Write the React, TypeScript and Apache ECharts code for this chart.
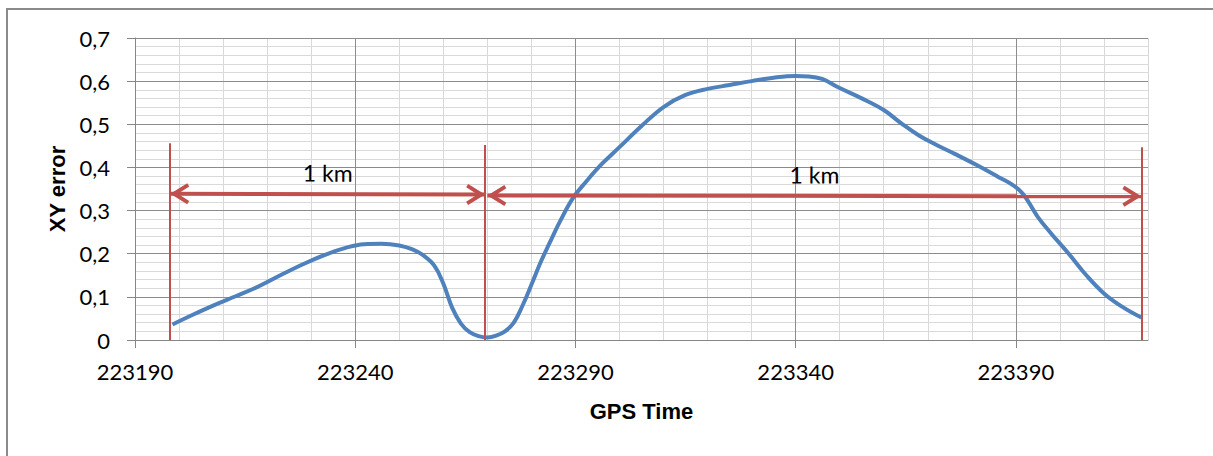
import React, { useEffect, useRef } from "react";
import * as echarts from "echarts";

// ---- data ----
const gpsTime = [
  223198.5, 223203, 223208, 223213, 223218, 223223, 223228, 223233, 223238, 223242,
  223246, 223250, 223253, 223255.5, 223258, 223260, 223262, 223264, 223266, 223268,
  223270, 223272, 223274, 223276, 223278, 223280, 223282, 223284, 223286.5, 223289.5,
  223292.5, 223296, 223300, 223305, 223310, 223315, 223320, 223325, 223330, 223335,
  223340, 223343, 223346, 223350, 223355, 223360, 223364, 223368, 223372, 223376,
  223381, 223386, 223389.5, 223391.5, 223393, 223395, 223398, 223402, 223406, 223410,
  223414, 223418.5,
];
const xyError = [
  0.036, 0.058, 0.081, 0.102, 0.124, 0.15, 0.175, 0.197, 0.214, 0.222,
  0.223, 0.219, 0.21, 0.196, 0.172, 0.131, 0.075, 0.038, 0.018, 0.009,
  0.006, 0.01, 0.02, 0.04, 0.08, 0.128, 0.178, 0.222, 0.275, 0.33,
  0.368, 0.408, 0.447, 0.496, 0.54, 0.568, 0.582, 0.591, 0.6, 0.608,
  0.612, 0.611, 0.605, 0.584, 0.56, 0.533, 0.502, 0.474, 0.452, 0.432,
  0.406, 0.378, 0.358, 0.34, 0.318, 0.285, 0.247, 0.2, 0.15, 0.108,
  0.078, 0.052,
];

const xMin = 223190;
const xMax = 223420;
const xTickLabels = [223190, 223240, 223290, 223340, 223390];
const yTickLabels = [0, 0.1, 0.2, 0.3, 0.4, 0.5, 0.6, 0.7];

// annotation markers (vertical red lines)
const markerTimes = [223198, 223269.5, 223418.5];
const markerTops = [0.456, 0.452, 0.447];
const markerBottom = 0;

// distance arrows
const arrowStarts = [223198, 223270];
const arrowEnds = [223269.5, 223418.5];
const arrowStartY = [0.339, 0.335];
const arrowEndY = [0.337, 0.333];
const arrowLabels = ["1 km", "1 km"];

const RED = "#C0504D";
const BLUE = "#4F81BD";
const chevron =
  "path://M0 -19 L0 -19 Z M0 0 L10.5 17 L7.2 19 L0 7.6 L-7.2 19 L-10.5 17 Z";

export default function App() {
  const ref = useRef<HTMLDivElement>(null);

  useEffect(() => {
    if (!ref.current) return;
    const chart = echarts.init(ref.current, undefined, { renderer: "svg" });

    const curve = gpsTime.map((t, i) => [t, xyError[i]]);

    const verticalLines = markerTimes.map((t, i) => [
      { coord: [t, markerTops[i]] },
      { coord: [t, markerBottom] },
    ]);
    const arrows = arrowStarts.map((s, i) => [
      {
        coord: [s, arrowStartY[i]],
        label: { formatter: arrowLabels[i] },
      },
      { coord: [arrowEnds[i], arrowEndY[i]] },
    ]);

    const tickFont = "Lato";
    const titleFont = "Liberation Sans";

    chart.setOption({
      animation: false,
      backgroundColor: "#ffffff",
      graphic: [
        {
          type: "rect",
          shape: { x: 7, y: 9, width: 1400, height: 700 },
          style: { fill: "none", stroke: "#8a8a8a", lineWidth: 2 },
          silent: true,
          z: -10,
        },
      ],
      grid: { left: 135, right: 65, top: 38, bottom: 116, containLabel: false },
      xAxis: [
        {
          // major axis: labels, ticks, dark grid lines at the labelled values
          type: "value",
          min: xMin,
          max: xMax,
          interval: 10,
          position: "bottom",
          z: 2,
          axisLine: { show: true, lineStyle: { color: "#868686", width: 1 } },
          axisTick: {
            show: true,
            customValues: xTickLabels,
            length: 8,
            lineStyle: { color: "#868686" },
          },
          axisLabel: {
            customValues: xTickLabels,
            formatter: (v: number) => String(v),
            fontFamily: tickFont,
            fontSize: 22,
            color: "#000",
            margin: 20,
          },
          splitLine: { show: true, lineStyle: { color: "#8c8c8c", width: 1 } },
          name: "GPS Time",
          nameLocation: "middle",
          nameGap: 60,
          nameTextStyle: {
            fontFamily: titleFont,
            fontWeight: "bold",
            fontSize: 22,
            color: "#000",
          },
        },
        {
          // minor grid every 10 s
          type: "value",
          min: xMin,
          max: xMax,
          interval: 10,
          position: "top",
          z: 0,
          axisLine: { show: false },
          axisTick: { show: false },
          axisLabel: { show: false },
          splitLine: { show: true, lineStyle: { color: "#d9d9d9", width: 1 } },
        },
      ],
      yAxis: [
        {
          type: "value",
          min: 0,
          max: 0.7,
          interval: 0.02,
          z: 2,
          axisLine: { show: true, lineStyle: { color: "#868686", width: 1 } },
          axisTick: {
            show: true,
            customValues: yTickLabels,
            length: 8,
            lineStyle: { color: "#868686" },
          },
          axisLabel: {
            customValues: yTickLabels,
            formatter: (v: number) =>
              v === 0 ? "0" : v.toFixed(1).replace(".", ","),
            fontFamily: tickFont,
            fontSize: 22,
            color: "#000",
            margin: 25,
          },
          splitLine: { show: true, lineStyle: { color: "#8c8c8c", width: 1 } },
          name: "XY error",
          nameLocation: "middle",
          nameRotate: 90,
          nameGap: 66,
          nameTextStyle: {
            fontFamily: titleFont,
            fontWeight: "bold",
            fontSize: 22,
            color: "#000",
          },
        },
        {
          // minor grid every 0.02
          type: "value",
          min: 0,
          max: 0.7,
          interval: 0.02,
          position: "right",
          z: 0,
          axisLine: { show: false },
          axisTick: { show: false },
          axisLabel: { show: false },
          splitLine: { show: true, lineStyle: { color: "#d9d9d9", width: 1 } },
        },
      ],
      series: [
        {
          name: "XY error",
          type: "line",
          xAxisIndex: 0,
          yAxisIndex: 0,
          data: curve,
          smooth: 0.4,
          showSymbol: false,
          symbol: "none",
          lineStyle: { color: BLUE, width: 4 },
          z: 3,
        },
        {
          name: "markers",
          type: "line",
          xAxisIndex: 0,
          yAxisIndex: 0,
          data: [],
          clip: false,
          silent: true,
          z: 5,
          markLine: {
            silent: true,
            animation: false,
            symbol: ["none", "none"],
            label: { show: false },
            lineStyle: { color: RED, width: 2, type: "solid" },
            data: verticalLines,
          },
        },
        {
          name: "arrows",
          type: "line",
          xAxisIndex: 0,
          yAxisIndex: 0,
          data: [],
          clip: false,
          silent: true,
          z: 6,
          markLine: {
            silent: true,
            animation: false,
            symbol: [chevron, chevron],
            symbolSize: [21, 38],
            label: {
              show: true,
              position: "insideMiddleTop",
              distance: 10,
              fontFamily: tickFont,
              fontSize: 23,
              color: "#000",
            },
            lineStyle: { color: RED, width: 4, type: "solid" },
            itemStyle: { color: RED },
            data: arrows,
          },
        },
      ],
    });

    return () => chart.dispose();
  }, []);

  return (
    <div
      ref={ref}
      style={{
        position: "fixed",
        left: 0,
        top: 0,
        width: 1213,
        height: 456,
        background: "#fff",
      }}
    />
  );
}
